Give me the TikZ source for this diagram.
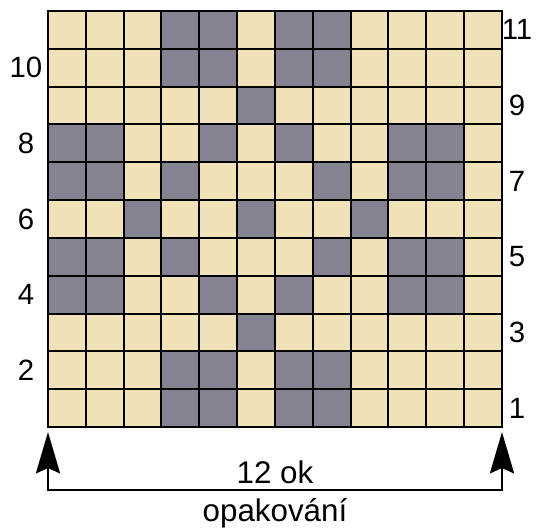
\documentclass[tikz,border=0pt]{standalone}
\usepackage{fontspec}
\setmainfont{Liberation Sans}
\usetikzlibrary{arrows.meta}
\definecolor{cellbeige}{HTML}{F0E1B9}
\definecolor{cellgrey}{HTML}{878291}
\tikzset{
  lightcell/.style={fill=cellbeige},
  darkcell/.style={fill=cellgrey},
  gridline/.style={line width=1.5pt, line cap=rect},
  rowlabel/.style={font=\fontsize{22}{22}\selectfont, inner sep=0pt},
  caption/.style={font=\fontsize{23.5}{24}\selectfont, inner sep=0pt, anchor=base},
  repeatline/.style={line width=2.2pt,
    {Stealth[length=31pt,width=18pt,inset=4pt]}-{Stealth[length=31pt,width=18pt,inset=4pt]}}
}
\begin{document}
\begin{tikzpicture}[x=0.75pt,y=-0.75pt]
\useasboundingbox (0,0) rectangle (537,530);

\fill[lightcell] (48,11) rectangle (502,427);

\foreach \r/\cols in {11/{4,5,7,8},10/{4,5,7,8},9/{6},8/{1,2,5,7,10,11},
  7/{1,2,4,8,10,11},6/{3,6,9},5/{1,2,4,8,10,11},4/{1,2,5,7,10,11},
  3/{6},2/{4,5,7,8},1/{4,5,7,8}}
  \foreach \c in \cols
    \fill[darkcell] ({48+(\c-1)*37.83},{427-\r*37.82}) rectangle ++(37.83,37.82);

\foreach \i in {0,...,12}
  \draw[gridline] ({48+\i*37.83},11) -- ({48+\i*37.83},427);
\foreach \j in {0,...,11}
  \draw[gridline] (48,{11+\j*37.82}) -- (502,{11+\j*37.82});

\foreach \r in {11,9,7,5,3,1}
  \node[rowlabel] (right\r) at (517,{427-(\r-0.5)*37.82}) {\r};
\foreach \r in {10,8,6,4,2}
  \node[rowlabel] (left\r) at (26,{427-(\r-0.5)*37.82}) {\r};

\coordinate (tipL) at (48,432);
\coordinate (tipR) at (502,432);
\coordinate (baseL) at (48,490);
\coordinate (baseR) at (502,490);
\draw[repeatline] (tipL) -- (baseL) -- (baseR) -- (tipR);

\node[caption] (stitches) at (275,484) {12 ok};
\node[caption] (repeats) at (275,522) {opakování};
\end{tikzpicture}
\end{document}
